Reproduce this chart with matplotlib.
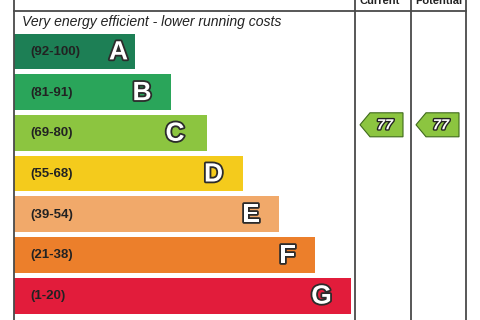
import matplotlib
matplotlib.use('Agg')
import matplotlib.pyplot as plt
import matplotlib.patheffects as pe
from matplotlib.patches import Polygon

# EPC bands
bands = ['A', 'B', 'C', 'D', 'E', 'F', 'G']
ranges = ['(92-100)', '(81-91)', '(69-80)', '(55-68)', '(39-54)', '(21-38)', '(1-20)']
lows = [92, 81, 69, 55, 39, 21, 1]
highs = [100, 91, 80, 68, 54, 38, 20]
bar_ends = [135, 171, 207, 243, 279, 315, 351]
colours = ['#1d7f55', '#2aa55a', '#8cc540', '#f4cb1c', '#f1a96a', '#ec7f2b', '#e21c3b']

current = 77
potential = 77

# where each band letter sits inside its bar (px left of the bar end)
letter_offsets = [16.5, 29, 32, 29.5, 28, 27.5, 29.5]

plt.rcParams['font.family'] = ['Liberation Sans', 'DejaVu Sans']

fig = plt.figure(figsize=(4.8, 3.2), dpi=100)
ax = fig.add_axes([0, 0, 1, 1])
ax.set_xlim(0, 480)
ax.set_ylim(320, 0)
ax.axis('off')

left = 14
row_top = 33.5
pitch = 40.7
bar_h = 35.8
rows = [row_top + bar_h / 2 + i * pitch for i in range(len(bands))]

ax.barh(rows, [e - left for e in bar_ends], left=left, height=bar_h,
        color=colours, edgecolor='none')

outline = [pe.withStroke(linewidth=2.6, foreground='#2b2b2b')]
for y, r, b, e, off in zip(rows, ranges, bands, bar_ends, letter_offsets):
    ax.text(30, y + 0.5, r, fontsize=9.5, fontweight='bold', color='#222222',
            va='center', ha='left')
    ax.text(e - off, y + 1, b, fontsize=19, fontweight='bold', color='white',
            va='center', ha='center', path_effects=outline)

ax.text(22, 22, 'Very energy efficient - lower running costs', fontsize=10.1,
        style='italic', color='#222222', va='center', ha='left')

# frame lines
lc = '#4a4a4a'
ax.plot([13.5, 13.5], [0, 320], color=lc, lw=1.3)
for x in [355, 410.5, 466]:
    ax.plot([x, x], [0, 320], color=lc, lw=1.3)
ax.plot([13.5, 466], [10.5, 10.5], color=lc, lw=1.3)

ax.text(380, 4, 'Current', fontsize=8, fontweight='bold', color='#222222',
        ha='center', va='baseline')
ax.text(439, 4, 'Potential', fontsize=8, fontweight='bold', color='#222222',
        ha='center', va='baseline')


def rating_row(v):
    for i, (lo, hi) in enumerate(zip(lows, highs)):
        if lo <= v <= hi:
            return i
    return len(bands) - 1


def arrow(x0, x1, value):
    i = rating_row(value)
    yc = rows[i] - 8
    h = 24
    pts = [(x0, yc), (x0 + 10, yc - h / 2), (x1, yc - h / 2),
           (x1, yc + h / 2), (x0 + 10, yc + h / 2)]
    ax.add_patch(Polygon(pts, closed=True, facecolor=colours[i],
                         edgecolor='#3f6a1c', lw=0.8))
    ax.text((x0 + x1) / 2 + 3.5, yc + 0.5, str(value), fontsize=10.5,
            fontweight='bold', style='italic', color='white',
            ha='center', va='center',
            path_effects=[pe.withStroke(linewidth=2, foreground='#222222')])


arrow(360, 403, current)
arrow(416, 459, potential)

fig.savefig('out.png', dpi=100)
